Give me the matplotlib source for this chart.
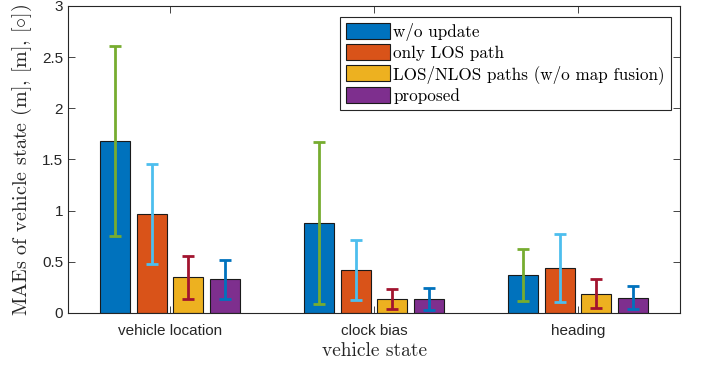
import numpy as np
import matplotlib
matplotlib.use("Agg")
import matplotlib.pyplot as plt

## DATA ##
CATEGORIES = ["vehicle location", "clock bias", "heading"]
SERIES = [
	"w/o update",
	"only LOS path",
	"LOS/NLOS paths (w/o map fusion)",
	"proposed"
]
# rows: series, columns: categories
MEANS = [
	[1.68, 0.88, 0.375],
	[0.97, 0.42, 0.44],
	[0.35, 0.135, 0.19],
	[0.33, 0.135, 0.15]
]
ERRORS = [
	[0.93, 0.79, 0.255],
	[0.49, 0.295, 0.335],
	[0.21, 0.10, 0.14],
	[0.19, 0.105, 0.115]
]

BAR_COLORS = ["#0072BD", "#D95319", "#EDB120", "#7E2F8E"]
ERR_COLORS = ["#77AC30", "#4DBEEE", "#A2142F", "#0072BD"]

## PLOTTING ##
plt.rcParams["mathtext.fontset"] = "cm"
SANS = ["Liberation Sans", "DejaVu Sans"]
SERIF = ["cmr10", "DejaVu Serif"]

fig = plt.figure(figsize = (7.02, 3.68), dpi = 100)
ax = fig.add_axes([0.0969, 0.1495, 0.8718, 0.8342])

x = np.arange(1, len(CATEGORIES) + 1)
bar_width = 0.147
offsets = [-0.27, -0.09, 0.09, 0.27]

for index in range(len(SERIES)):
	ax.bar(
		x + offsets[index],
		MEANS[index],
		bar_width,
		color = BAR_COLORS[index],
		edgecolor = "#1a1a1a",
		linewidth = 0.8,
		label = SERIES[index],
		zorder = 2
	)
	ax.errorbar(
		x + offsets[index],
		MEANS[index],
		yerr = ERRORS[index],
		fmt = "none",
		ecolor = ERR_COLORS[index],
		elinewidth = 2,
		capsize = 4,
		capthick = 2,
		zorder = 3
	)

ax.set_xlim(0.5, 3.5)
ax.set_ylim(0, 3)
ax.set_xticks(x)
ax.set_xticklabels(CATEGORIES, family = SANS, fontsize = 11, color = "#262626")
ax.set_yticks([0, 0.5, 1, 1.5, 2, 2.5, 3])
ax.set_yticklabels(["0", "0.5", "1", "1.5", "2", "2.5", "3"], family = SANS, fontsize = 11, color = "#262626")

ax.tick_params(direction = "in", top = True, right = True, length = 5, width = 0.6, color = "#262626")
ax.tick_params(axis = "x", pad = 8)
for spine in ax.spines.values():
	spine.set_linewidth(0.8)
	spine.set_color("#262626")

ax.set_xlabel("vehicle state", family = SERIF, fontsize = 14, color = "#262626", labelpad = 3)
ax.set_ylabel(r"MAEs of vehicle state (m], [m], [$\circ$])", family = SERIF, fontsize = 14.5, color = "#262626", labelpad = 6)

leg = ax.legend(
	loc = "upper right",
	bbox_to_anchor = (0.985, 0.965),
	prop = {"family": SERIF, "size": 12.3},
	frameon = True,
	fancybox = False,
	edgecolor = "#262626",
	framealpha = 1,
	handlelength = 2.6,
	handleheight = 1.0,
	handletextpad = 0.2,
	labelspacing = 0.22,
	borderpad = 0.35,
	borderaxespad = 0
)
leg.get_frame().set_linewidth(0.8)

plt.savefig("out.png", dpi = 100)
